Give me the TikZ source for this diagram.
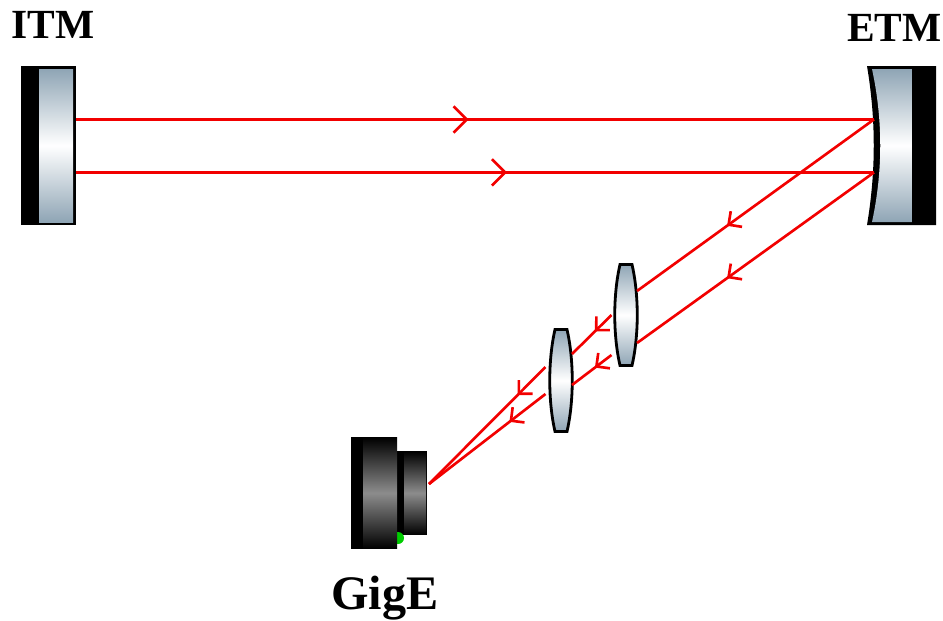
\documentclass[tikz,border=0pt]{standalone}
\usepackage{fontspec}
\setmainfont{Liberation Serif}
\usetikzlibrary{arrows.meta, decorations.markings, calc}
\definecolor{steel}{HTML}{8FA5B5}
\tikzset{
    glass/.style={top color=steel, bottom color=steel, middle color=white, draw=black, line width=1.6pt},
    housing/.style={top color=black, bottom color=black, middle color=black!45, draw=none},
    ray/.style={red!95!black, line width=1.5pt},
    bigmark/.style={postaction={decorate, decoration={markings, mark=at position #1 with {\arrow{Straight Barb[length=7.5pt,width=15pt,line width=1.5pt]}}}}},
    smallmark/.style={postaction={decorate, decoration={markings, mark=at position #1 with {\arrow{Straight Barb[length=5.5pt,width=11pt,line width=1.5pt]}}}}},
    title/.style={font=\fontsize{23.6}{24}\selectfont\bfseries, inner sep=0pt}
}
\begin{document}
\begin{tikzpicture}[x=0.02cm,y=-0.02cm]
    \useasboundingbox (0,0) rectangle (943,620);

    % mirrors
    \fill (21,66) rectangle (76,225);
    \fill[top color=steel, bottom color=steel, middle color=white] (39,69) rectangle (73,222);
    \fill (867,66) .. controls (876,120) and (876,171) .. (867,225) -- (936,225) -- (936,66) -- cycle;
    \fill[top color=steel, bottom color=steel, middle color=white] (872,69) .. controls (883,120) and (883,171) .. (872,222) -- (912,222) -- (912,69) -- cycle;

    % lenses
    \draw[glass] (620,264.5) -- (632,264.5) .. controls (639,295) and (639,335) .. (632,365.5) -- (620,365.5) .. controls (613,335) and (613,295) .. (620,264.5) -- cycle;
    \draw[glass] (555,329.5) -- (567,329.5) .. controls (574,360) and (574,401) .. (567,431.5) -- (555,431.5) .. controls (548,401) and (548,360) .. (555,329.5) -- cycle;

    % camera
    \fill (397,451) rectangle (427,535);
    \fill[housing] (404,451.3) rectangle (426,534.7);
    \fill[green!80!black] (398,538) circle (6);
    \fill (351,437) rectangle (397,549);
    \fill[housing] (363,437.3) rectangle (397,548.7);

    \coordinate (itmA) at (76,119.4);
    \coordinate (itmB) at (76,172.4);
    \coordinate (etmA) at (874,119.4);
    \coordinate (etmB) at (874,172.4);
    \coordinate (lensAa) at (637,291);
    \coordinate (lensAb) at (637,343);
    \coordinate (lensAc) at (611.5,315);
    \coordinate (lensAd) at (611.5,355);
    \coordinate (lensBa) at (572,354);
    \coordinate (lensBb) at (572,385);
    \coordinate (lensBc) at (545.5,367);
    \coordinate (lensBd) at (545.5,394);
    \coordinate (gige) at (429,484);

    % beams
    \draw[ray, bigmark=0.492] (itmA) -- (etmA);
    \draw[ray, bigmark=0.54] (itmB) -- (etmB);
    \draw[ray, smallmark=0.62] (etmA) -- (lensAa);
    \draw[ray, smallmark=0.62] (etmB) -- (lensAb);
    \draw[ray, smallmark=0.42] (lensAc) -- (lensBa);
    \draw[ray, smallmark=0.42] (lensAd) -- (lensBb);
    \draw[ray, smallmark=0.24] (lensBc) -- (gige);
    \draw[ray, smallmark=0.31] (lensBd) -- (gige);

    \node[title] (itm) at (53,25) {ITM};
    \node[title] (etm) at (894.5,28) {ETM};
    \node[title, font=\fontsize{27.4}{28}\selectfont\bfseries] (cam) at (385,598) {GigE};
\end{tikzpicture}
\end{document}
